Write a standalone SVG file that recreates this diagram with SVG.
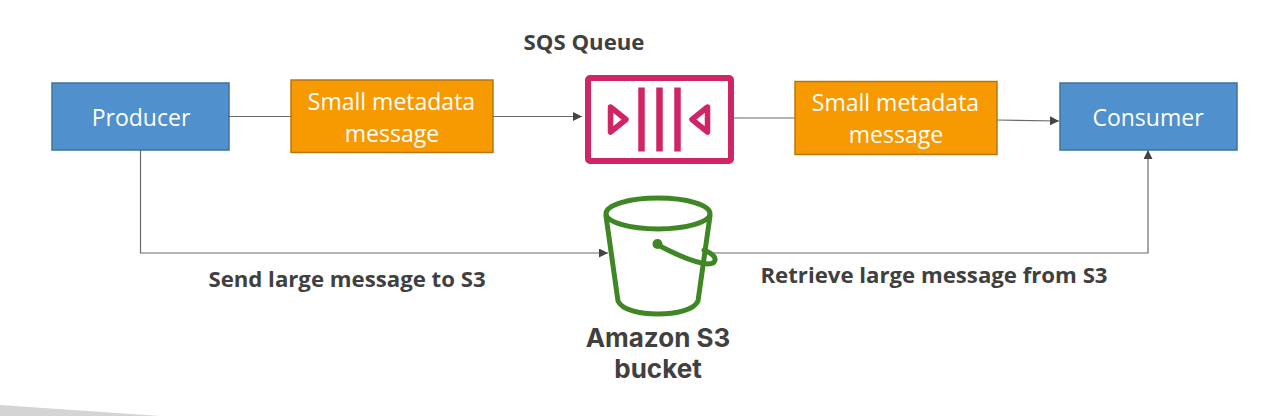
<svg xmlns="http://www.w3.org/2000/svg" width="1282" height="416" viewBox="0 0 1282 416">
<style>
.t{font-family:"Open Sans","Noto Sans",sans-serif;text-anchor:middle}
.w{fill:#fff;font-size:23px}
.b{fill:#404040;font-size:22.2px;font-weight:700}
.s{font-family:Inter,"Liberation Sans",sans-serif;text-anchor:middle;font-weight:700;font-size:26px;fill:#404040}
.blue{fill:#4f90cd;stroke:#41719c;stroke-width:1.5}
.or{fill:#f79900;stroke:#b9770e;stroke-width:1.5}
.c{fill:none;stroke:#6a6a6a;stroke-width:1.2}
</style>
<defs><marker id="a" markerUnits="userSpaceOnUse" markerWidth="10" markerHeight="10" refX="9" refY="4.500" orient="auto"><path d="M0 0L9 4.500L0 9Z" fill="#444"/></marker></defs>
<rect width="1282" height="416" fill="#fff"/>
<path d="M0 405L160 416H0Z" fill="#d4d4d4"/>
<g id="connectors">
<path class="c" d="M229 116.500H291"/>
<path class="c" d="M493 116.500H582" marker-end="url(#a)"/>
<path class="c" d="M734 118H795"/>
<path class="c" d="M997 120L1059 121" marker-end="url(#a)"/>
<path class="c" d="M140.500 150V253H608" marker-end="url(#a)"/>
<path class="c" d="M712 253H1148V150" marker-end="url(#a)"/>
</g>
<g id="producer"><rect class="blue" x="52" y="83" width="177" height="67"/><text class="t w" x="141" y="126">Producer</text></g>
<g id="metadata-1"><rect class="or" x="291" y="80" width="202" height="72.500"/><text class="t w" x="391.500" y="110">Small metadata</text><text class="t w" x="392" y="142">message</text></g>
<g id="sqs-queue">
<text class="t b" x="584" y="50">SQS Queue</text>
<rect x="588" y="78" width="143" height="83" rx="2" fill="#fff" stroke="#cf2567" stroke-width="6"/>
<path d="M641.500 87.500V151.500M659.500 87.500V151.500M677.500 87.500V151.500" stroke="#cf2567" stroke-width="6.500" fill="none"/>
<path d="M610.500 107L626 119.500L610.500 132Z M707.500 107L692 119.500L707.500 132Z" fill="none" stroke="#cf2567" stroke-width="5.500" stroke-linejoin="round"/>
</g>
<g id="metadata-2"><rect class="or" x="795" y="81.500" width="202" height="73"/><text class="t w" x="895.500" y="111">Small metadata</text><text class="t w" x="896" y="143">message</text></g>
<g id="consumer"><rect class="blue" x="1060" y="83" width="177" height="67"/><text class="t w" x="1148" y="126">Consumer</text></g>
<g id="s3-bucket">
<g fill="none" stroke="#3f8624" stroke-width="5" stroke-linecap="round" stroke-linejoin="round">
<ellipse cx="658" cy="213.500" rx="52" ry="15.500"/>
<path d="M606 216L618 301C622 310 640 314 658 314C676 314 694 310 698 301L710 216"/>
<path d="M658 245C675 254 695 263 708 264C716 264 717 258 712 254.500C709 252 706 251 704 250"/>
</g>
<circle cx="657.500" cy="244" r="5" fill="#3f8624"/>
<text class="s" x="658" y="347">Amazon S3</text>
<text class="s" x="658" y="378">bucket</text>
</g>
<g id="labels">
<text class="t b" x="347" y="287">Send large message to S3</text>
<text class="t b" x="934" y="283">Retrieve large message from S3</text>
</g>
</svg>
